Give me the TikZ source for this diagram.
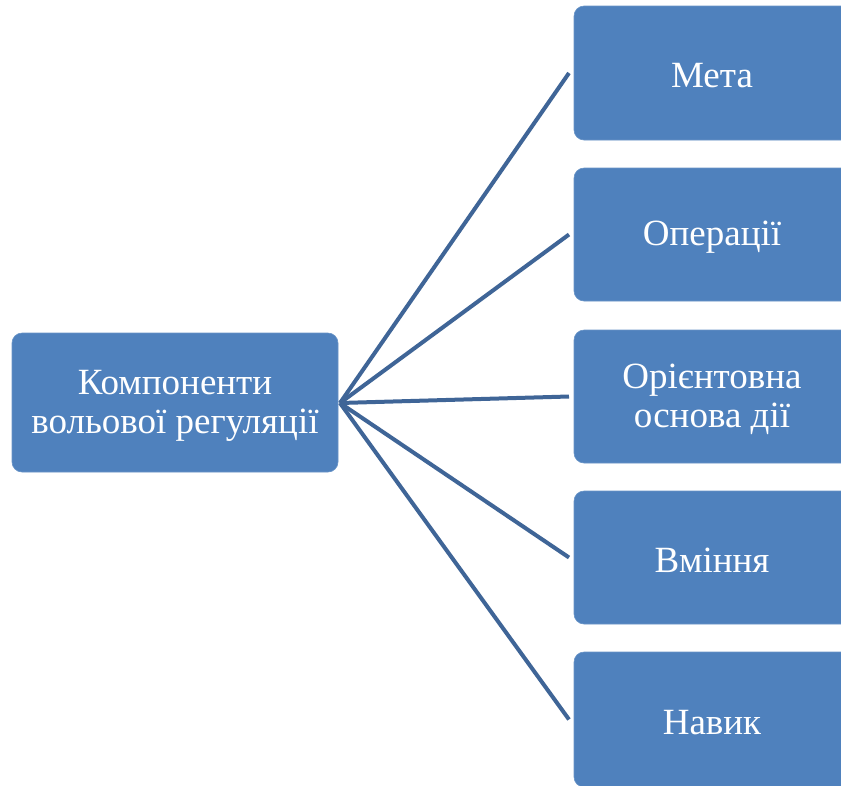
\documentclass[tikz,border=0pt]{standalone}
\usepackage{fontspec}
\setmainfont{Liberation Serif}
\definecolor{boxfill}{HTML}{4F81BD}
\definecolor{linkcol}{HTML}{3F6597}
\begin{document}
\begin{tikzpicture}[x=1pt,y=-1pt,
  box/.style={fill=boxfill, draw=boxfill!85!white, line width=0.6pt, rounded corners=10pt, text=white,
    font=\fontsize{37}{39}\selectfont, align=center, inner sep=0pt},
  link/.style={draw=linkcol, line width=4pt}]
\useasboundingbox (0,0) rectangle (841,785);
\fill[white] (0,0) rectangle (841,785);
% left box
\draw[box] (12,333) rectangle (338,472);
\node[box, fill=none, draw=none] (src) at (175,406) {Компоненти\\вольової регуляції};
\coordinate (hub) at (340,403);
% right boxes
\foreach \n/\t/\b/\txt in {a/6/140/Мета, b/168/301/Операції, c/330/463/{Орієнтовна\\основа дії}, d/491/624/Вміння, e/652/787/Навик}{
  \draw[box] (574,\t) rectangle (852,\b);
  \node[box, fill=none, draw=none] (\n) at (712,{(\t+\b)/2+3}) {\txt};
  \coordinate (\n end) at (569,{(\t+\b)/2});
}
\foreach \n in {a,b,c,d,e}{
  \draw[link] (hub) -- (\n end);
}
\end{tikzpicture}
\end{document}
